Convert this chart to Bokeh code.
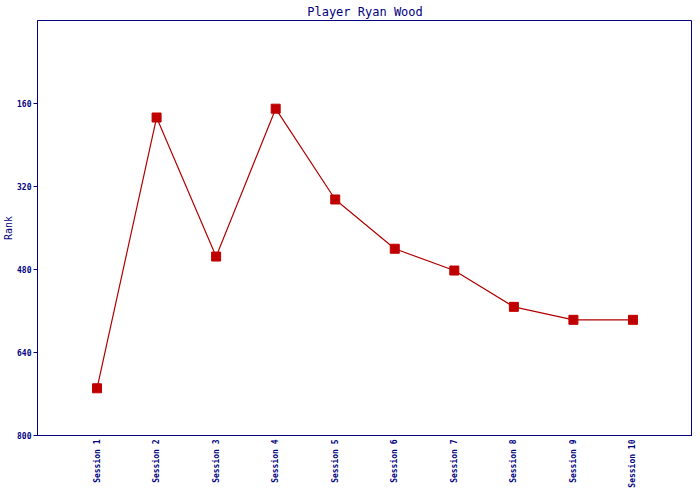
import math
from bokeh.plotting import figure
from bokeh.models import Range1d, FixedTicker
from bokeh.embed import file_html
from bokeh.resources import INLINE

sessions = ["Session 1", "Session 2", "Session 3", "Session 4", "Session 5",
            "Session 6", "Session 7", "Session 8", "Session 9", "Session 10"]
ranks = [709, 187, 455, 170, 345, 440, 482, 552, 577, 577]
y_ticks = [160, 320, 480, 640, 800]

xs = list(range(1, len(sessions) + 1))

NAVY = "#000080"
FONT = "DejaVu Sans Mono"

p = figure(width=692, height=490, output_backend="svg", toolbar_location=None,
           x_range=Range1d(0, len(sessions) + 1), y_range=Range1d(800, 0),
           title="Player Ryan Wood",
           min_border_left=0, min_border_right=0, min_border_top=12, min_border_bottom=0)

p.title.align = "center"
p.title.text_color = NAVY
p.title.text_font = FONT
p.title.text_font_size = "12px"
p.title.text_font_style = "normal"
p.title.standoff = 4

p.outline_line_color = NAVY
p.outline_line_alpha = 1
p.outline_line_width = 1
p.grid.visible = False
p.background_fill_color = "white"
p.border_fill_color = "white"

p.line(xs, ranks, line_color="#B00000", line_width=1.2)
p.scatter(xs, ranks, marker="square", size=9, fill_color="#C00000", line_color="#C00000")

ya = p.yaxis[0]
ya.ticker = FixedTicker(ticks=y_ticks)
ya.axis_line_color = NAVY
ya.major_tick_line_color = NAVY
ya.major_tick_out = 4
ya.major_tick_in = 0
ya.minor_tick_line_color = None
ya.minor_tick_out = 0
ya.minor_tick_in = 0
ya.major_label_text_color = NAVY
ya.major_label_text_font = FONT
ya.major_label_text_font_size = "8px"
ya.major_label_text_font_style = "bold"
ya.major_label_standoff = 2
ya.axis_label = "Rank"
ya.axis_label_text_color = NAVY
ya.axis_label_text_font = FONT
ya.axis_label_text_font_size = "10px"
ya.axis_label_text_font_style = "normal"
ya.axis_label_standoff = 0

xa = p.xaxis[0]
xa.ticker = FixedTicker(ticks=xs)
xa.major_label_overrides = {x: s for x, s in zip(xs, sessions)}
xa.major_label_orientation = math.pi / 2
xa.axis_line_color = NAVY
xa.major_tick_line_color = None
xa.major_tick_out = 0
xa.major_tick_in = 0
xa.minor_tick_line_color = None
xa.minor_tick_out = 0
xa.minor_tick_in = 0
xa.major_label_text_color = NAVY
xa.major_label_text_font = FONT
xa.major_label_text_font_size = "8px"
xa.major_label_text_font_style = "bold"
xa.major_label_standoff = 4
xa.axis_label_standoff = 0

open("out.html", "w").write(file_html(p, INLINE))
